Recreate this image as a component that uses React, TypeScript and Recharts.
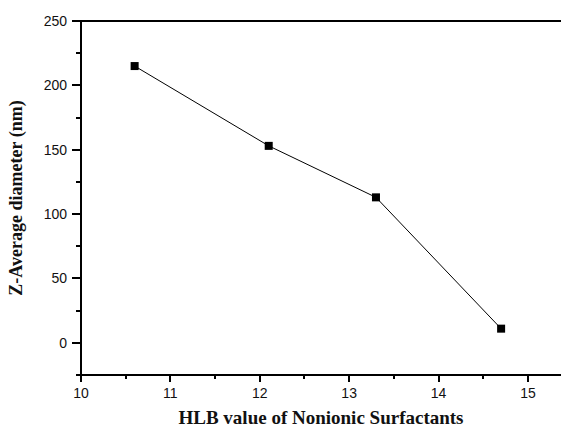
import { LineChart, Line, XAxis, YAxis, ReferenceLine } from "recharts";

const hlbValues = [10.6, 12.1, 13.3, 14.7];
const zAverage = [215, 153, 113, 11];
const xTicks = [10, 10.5, 11, 11.5, 12, 12.5, 13, 13.5, 14, 14.5, 15];
const yTicks = [-25, 0, 25, 50, 75, 100, 125, 150, 175, 200, 225, 250];

const data = hlbValues.map((hlb, i) => ({ hlb, size: zAverage[i] }));

const tickFont = "'Liberation Sans', Arial, sans-serif";
const labelFont = "'Liberation Serif', 'Times New Roman', serif";

// major ticks on whole numbers get a label, halves only a short mark
const XTick = (props: any) => {
  const { x, y, payload } = props;
  const major = Number.isInteger(payload.value);
  const px = Math.round(x);
  return (
    <g>
      <rect x={px - 1} y={y} width={2} height={major ? 7 : 4} fill="#000" />
      {major && (
        <text x={x} y={y + 23} textAnchor="middle" fontSize={14} fontFamily={tickFont} fill="#111">
          {payload.value}
        </text>
      )}
    </g>
  );
};

const YTick = (props: any) => {
  const { x, y, payload } = props;
  const major = payload.value % 50 === 0;
  const py = Math.round(y);
  const len = major ? 9 : 5;
  return (
    <g>
      <rect x={x - len} y={py - 1} width={len} height={2} fill="#000" />
      {major && (
        <text x={x - 14} y={y + 5} textAnchor="end" fontSize={14} fontFamily={tickFont} fill="#111">
          {payload.value}
        </text>
      )}
    </g>
  );
};

const Marker = (props: any) => {
  const { cx, cy } = props;
  return <rect x={cx - 4} y={cy - 4} width={8} height={8} fill="#000" />;
};

export default function App() {
  return (
    <div style={{ position: "absolute", left: 0, top: 0, background: "#fff" }}>
      <LineChart
        width={561}
        height={427}
        data={data}
        margin={{ top: 21, right: 0, left: 0, bottom: 0 }}
      >
        <XAxis
          dataKey="hlb"
          type="number"
          domain={[10, 15.37]}
          ticks={xTicks}
          interval={0}
          allowDataOverflow
          height={52}
          tickSize={0}
          tickMargin={0}
          tick={<XTick />}
          stroke="#000"
          axisLine={{ stroke: "#000", strokeWidth: 2 }}
          label={{
            value: "HLB value of Nonionic Surfactants",
            position: "insideBottom",
            offset: 3,
            style: { fontFamily: labelFont, fontWeight: "bold", fontSize: 19, fill: "#111" },
          }}
        />
        <YAxis
          type="number"
          domain={[-25, 250]}
          ticks={yTicks}
          interval={0}
          allowDataOverflow
          width={81}
          tickSize={0}
          tickMargin={0}
          tick={<YTick />}
          stroke="#000"
          axisLine={{ stroke: "#000", strokeWidth: 2 }}
          label={{
            value: "Z-Average diameter (nm)",
            angle: -90,
            position: "insideLeft",
            offset: 16,
            style: { textAnchor: "middle", fontFamily: labelFont, fontWeight: "bold", fontSize: 18, fill: "#111" },
          }}
        />
        <ReferenceLine y={250} stroke="#000" strokeWidth={2} ifOverflow="extendDomain" />
        <Line
          dataKey="size"
          stroke="#000"
          strokeWidth={1}
          dot={<Marker />}
          activeDot={false}
          isAnimationActive={false}
        />
      </LineChart>
    </div>
  );
}
